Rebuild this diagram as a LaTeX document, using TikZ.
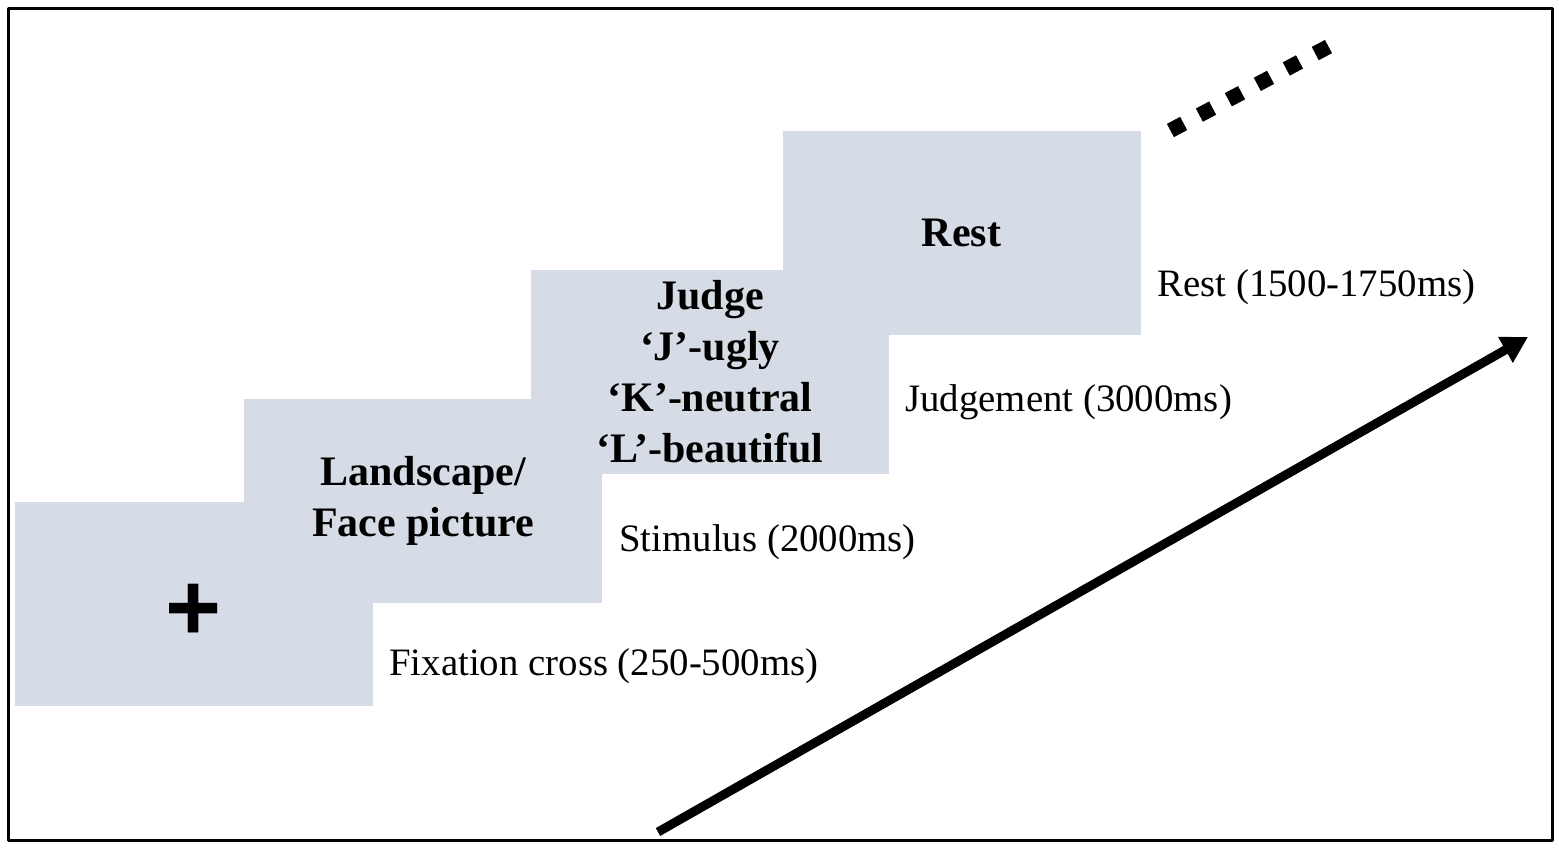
\documentclass[tikz,border=0pt]{standalone}
\usepackage{fontspec}
\setmainfont{Liberation Serif}
\newfontfamily\crossfont{Liberation Sans}
\usetikzlibrary{arrows.meta}
\definecolor{boxgray}{HTML}{D6DCE5}
\tikzset{
  stepbox/.style={fill=boxgray, inner sep=0pt, minimum width=179pt, minimum height=102pt,
    align=center, font=\fontsize{21}{25.5}\selectfont\bfseries},
  timelbl/.style={anchor=west, inner sep=0pt, font=\fontsize{19.4}{23}\selectfont},
}
\begin{document}
\begin{tikzpicture}[x=0.5pt, y=-0.5pt, line join=round, >=Stealth]
                \useasboundingbox (0,0) rectangle (1559,848);
                \draw[line width=1.5pt] (8,8) rectangle (1552,840);
                % trial steps
                \node[stepbox, font=\crossfont\fontsize{48}{48}\selectfont\bfseries] (fixbox) at (194,604) {\raisebox{-4pt}[\height][\depth]{+}};
                \node[stepbox] (stimbox) at (423,501) {Landscape/\\Face picture};
                \node[stepbox] (judgebox) at (710,372) {Judge\\‘J’-ugly\\‘K’-neutral\\‘L’-beautiful};
                \node[stepbox] (restbox) at (961.5,232.5) {Rest};
                % durations
                \node[timelbl] (fixlbl) at (389,666) {Fixation cross (250-500ms)};
                \node[timelbl] (stimlbl) at (619,542) {Stimulus (2000ms)};
                \node[timelbl] (judgelbl) at (905,402) {Judgement (3000ms)};
                \node[timelbl] (restlbl) at (1157,287) {Rest (1500-1750ms)};
                % time arrow and continuation
                \coordinate (arrstart) at (658,832);
                \coordinate (arrend) at (1528,337);
                \draw[line width=4.5pt, -{Triangle[length=13pt,width=14pt]}] (arrstart) -- (arrend);
                \coordinate (dotsa) at (1170.4,130.5);
                \coordinate (dotsb) at (1328.6,46.5);
                \draw[line width=7.5pt, dash pattern=on 7.5pt off 8.9pt] (dotsa) -- (dotsb);
            \end{tikzpicture}
\end{document}
